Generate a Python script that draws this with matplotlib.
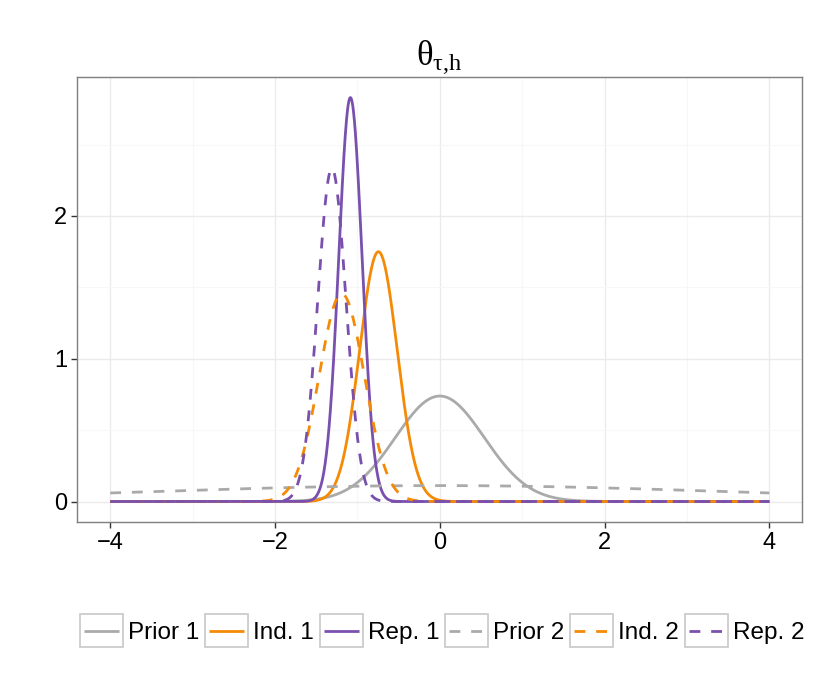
import numpy as np
import matplotlib
matplotlib.use("Agg")
import matplotlib.pyplot as plt
from matplotlib.legend_handler import HandlerLine2D
from matplotlib.patches import Rectangle

# ---- data (normal densities: peak location and spread) ----
series_labels = ["Prior 1", "Ind. 1", "Rep. 1", "Prior 2", "Ind. 2", "Rep. 2"]
series_means = [0.0, -0.745, -1.085, 0.0, -1.19, -1.31]
series_sds = [0.540, 0.228, 0.141, 3.58, 0.274, 0.171]
x_range = [-4.0, 4.0]
x_ticks = [-4, -2, 0, 2, 4]
y_ticks = [0, 1, 2]

colors = ["#AAAAAA", "#F58A07", "#7A50AE", "#AAAAAA", "#F58A07", "#7A50AE"]
styles = ["solid", "solid", "solid", "dashed", "dashed", "dashed"]

plt.rcParams["font.family"] = ["Liberation Sans", "DejaVu Sans"]
plt.rcParams["mathtext.fontset"] = "custom"
plt.rcParams["mathtext.rm"] = "Liberation Serif"
plt.rcParams["mathtext.it"] = "Liberation Serif"

fig = plt.figure(figsize=(8.30, 6.92), dpi=100)
ax = fig.add_axes([77.3 / 830, 1 - 521.7 / 692, (802.3 - 77.3) / 830, (521.7 - 77.3) / 692])

x = np.linspace(x_range[0], x_range[1], 2001)
lw = 2.0
handles = []
for lab, m, s, c, st in zip(series_labels, series_means, series_sds, colors, styles):
    y = np.exp(-0.5 * ((x - m) / s) ** 2) / (s * np.sqrt(2 * np.pi))
    (ln,) = ax.plot(x, y, color=c, lw=lw, label=lab, solid_capstyle="butt",
                    dash_capstyle="butt")
    if st == "dashed":
        ln.set_dashes((3.9, 3.9))
    handles.append(ln)

ax.set_xlim(-4.4, 4.4)
ax.set_ylim(-0.1415, 2.9715)
ax.set_xticks(x_ticks)
ax.set_xticklabels(["\u22124", "\u22122", "0", "2", "4"])
ax.set_yticks(y_ticks)
ax.set_xticks([-3, -1, 1, 3], minor=True)
ax.set_yticks([0.5, 1.5, 2.5], minor=True)
ax.grid(True, which="major", color="#EBEBEB", lw=1.0)
ax.grid(True, which="minor", color="#F7F7F7", lw=0.8)
ax.set_axisbelow(True)
ax.tick_params(which="major", length=4.5, width=1.0, color="#333333",
               labelsize=17, pad=3)
ax.tick_params(which="minor", length=0)
for sp in ax.spines.values():
    sp.set_color("#7F7F7F")
    sp.set_linewidth(1.0)

ax.set_title(r"$\mathrm{\theta}_{\mathrm{\tau{,}h}}$", fontsize=25, pad=9)

FS = 17.5
PX = FS * 100 / 72.0


class BoxedHandler(HandlerLine2D):
    def create_artists(self, legend, orig_handle, xdescent, ydescent, width,
                       height, fontsize, trans):
        arts = super().create_artists(legend, orig_handle, xdescent, ydescent,
                                      width, height, fontsize, trans)
        padx = 4.0 * 72 / 100
        boxh = 33.0 * 72 / 100
        cy = -ydescent + height / 2.0
        rect = Rectangle((-xdescent - padx, cy - boxh / 2), width + 2 * padx,
                         boxh, facecolor="white",
                         edgecolor="#CCCCCC", lw=1.3, transform=trans)
        return [rect] + list(arts)


leg = fig.legend(handles=handles, labels=series_labels, loc="center",
                 bbox_to_anchor=(444 / 830, 1 - 633 / 692), ncol=6,
                 frameon=False, fontsize=FS, handlelength=35 / PX,
                 handletextpad=9 / PX, columnspacing=10 / PX, borderaxespad=0,
                 handler_map={l: BoxedHandler() for l in handles})

fig.savefig("out.png", dpi=100)
